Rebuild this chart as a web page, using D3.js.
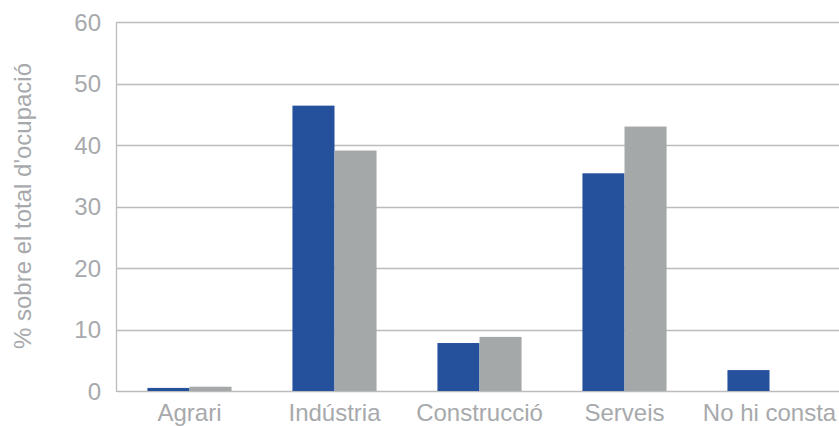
<!DOCTYPE html>
<html>
<head>
<meta charset="utf-8">
<script src="https://cdn.jsdelivr.net/npm/d3@7"></script>
<style>
  body { margin: 0; background: #fff; }
  svg { display: block; font-family: "Liberation Sans", Arial, sans-serif; }
</style>
</head>
<body>
<div id="chart"></div>
<script>
// Dades
var categories = ["Agrari", "Indústria", "Construcció", "Serveis", "No hi consta"];
var serieA = [0.5, 46.4, 7.8, 35.4, 3.4];
var serieB = [0.7, 39.1, 8.8, 43.0, 0];
var yTicks = [0, 10, 20, 30, 40, 50, 60];

var width = 839, height = 426;
var plotLeft = 117, plotTop = 22, plotBottom = 391;

var svg = d3.select("#chart").append("svg")
    .attr("width", width)
    .attr("height", height);

var x = d3.scaleBand()
    .domain(categories)
    .range([plotLeft, plotLeft + 145 * 5])
    .paddingInner(0.42)
    .paddingOuter(0.21);

var xSub = d3.scaleBand()
    .domain(["A", "B"])
    .range([0, x.bandwidth()]);

var y = d3.scaleLinear()
    .domain([0, 60])
    .range([plotBottom, plotTop]);

// Línies de la graella
svg.selectAll("line.grid")
    .data(yTicks)
    .enter().append("line")
    .attr("class", "grid")
    .attr("x1", plotLeft)
    .attr("x2", width)
    .attr("y1", d => Math.round(y(d)) + 0.5)
    .attr("y2", d => Math.round(y(d)) + 0.5)
    .attr("stroke", "#bcbcbc")
    .attr("stroke-width", 1.3);

// Eix vertical
svg.append("line")
    .attr("x1", plotLeft - 0.5).attr("x2", plotLeft - 0.5)
    .attr("y1", Math.round(y(60)))
    .attr("y2", Math.round(y(0)) + 1)
    .attr("stroke", "#bcbcbc")
    .attr("stroke-width", 1.3);

// Etiquetes de l'eix Y
svg.selectAll("text.ytick")
    .data(yTicks)
    .enter().append("text")
    .attr("class", "ytick")
    .attr("x", 101)
    .attr("y", d => y(d) + 8.5)
    .attr("text-anchor", "end")
    .attr("fill", "#a7a9ac")
    .attr("font-size", "24px")
    .text(d => d);

// Barres
var groups = svg.selectAll("g.cat")
    .data(categories)
    .enter().append("g")
    .attr("class", "cat")
    .attr("transform", d => "translate(" + x(d) + ",0)");

groups.append("rect")
    .attr("x", xSub("A"))
    .attr("width", xSub.bandwidth())
    .attr("y", (d, i) => y(serieA[i]))
    .attr("height", (d, i) => y(0) - y(serieA[i]))
    .attr("fill", "#25509b");

groups.append("rect")
    .attr("x", xSub("B"))
    .attr("width", xSub.bandwidth())
    .attr("y", (d, i) => y(serieB[i]))
    .attr("height", (d, i) => y(0) - y(serieB[i]))
    .attr("fill", "#a5a8a9");

// Etiquetes de l'eix X
svg.selectAll("text.xtick")
    .data(categories)
    .enter().append("text")
    .attr("class", "xtick")
    .attr("x", d => x(d) + x.bandwidth() / 2)
    .attr("y", 421)
    .attr("text-anchor", "middle")
    .attr("fill", "#a7a9ac")
    .attr("font-size", "24px")
    .text(d => d);

// Títol de l'eix Y
svg.append("text")
    .attr("transform", "translate(31,206) rotate(-90)")
    .attr("text-anchor", "middle")
    .attr("fill", "#a7a9ac")
    .attr("font-size", "24px")
    .text("% sobre el total d'ocupació");
</script>
</body>
</html>
